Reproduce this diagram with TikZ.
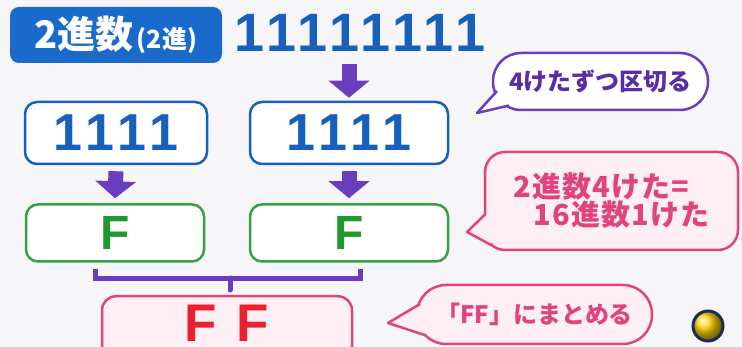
\documentclass[tikz,border=0pt]{standalone}
\usepackage{fontspec}
\setmainfont{Noto Sans CJK JP}
\newfontfamily\numfont{Liberation Sans}
\newfontfamily\jpwide{Noto Sans CJK JP}[LetterSpace=4]
\usetikzlibrary{arrows.meta,calc}
\definecolor{bg}{HTML}{F6F6F9}
\definecolor{tblue}{HTML}{1A6ACC}
\definecolor{nblue}{HTML}{1860BE}
\definecolor{purp}{HTML}{6A3DBE}
\definecolor{ptext}{HTML}{5A2DA6}
\definecolor{gline}{HTML}{3A9E44}
\definecolor{gtext}{HTML}{22992E}
\definecolor{pink}{HTML}{E0447C}
\definecolor{pfill}{HTML}{FDEFF4}
\definecolor{red}{HTML}{E8222C}
\definecolor{navy}{HTML}{1C2B5E}
\newcommand{\fs}[1]{\fontsize{#1}{#1}\selectfont}
\begin{document}
\begin{tikzpicture}[x=1pt,y=-1pt,
  bluebox/.style={draw=nblue,line width=2.5pt,fill=white,rounded corners=12pt,text=nblue,font=\numfont\fs{52}\bfseries,inner sep=0pt},
  greenbox/.style={draw=gline,line width=2.5pt,fill=white,rounded corners=12pt,text=gtext,font=\numfont\fs{48}\bfseries,inner sep=0pt},
  redbox/.style={draw=pink,line width=2.5pt,fill=pfill,rounded corners=14pt,text=red,font=\numfont\fs{53}\bfseries,inner sep=0pt},
  barrow/.style={draw=purp,line width=15pt,-{Triangle[width=40pt,length=17pt]}},
  bracket/.style={draw=purp,line width=5pt},
  bubble/.style={line width=2.5pt,inner sep=0pt,font=\bfseries},
]
\useasboundingbox (0,0) rectangle (742,347);
\clip (0,0) rectangle (742,347);
\fill[bg] (0,0) rectangle (742,347);

% title
\node[fill=tblue,rounded corners=9pt,minimum width=212pt,minimum height=56pt,text=white,font=\bfseries,inner sep=0pt] (title) at (116,35)
  {\fs{38}2進数\hspace{3pt}\fs{25}(2進)};

% top binary number
\node[text=nblue,font=\numfont\fs{54}\bfseries,inner sep=0pt] (bin) at (360,33)
  {1\kern1.5pt1\kern1.5pt1\kern1.5pt1\kern1.5pt1\kern1.5pt1\kern1.5pt1\kern1.5pt1};

% boxes
\node[bluebox,minimum width=182pt,minimum height=62pt] (L1) at (116,133) {1\kern3pt1\kern3pt1\kern3pt1};
\node[bluebox,minimum width=198pt,minimum height=62pt] (R1) at (349,133) {1\kern3pt1\kern3pt1\kern3pt1};
\node[greenbox,minimum width=178pt,minimum height=57pt] (LF) at (115,233) {F};
\node[greenbox,minimum width=198pt,minimum height=57pt] (RF) at (349,233) {F};
\node[redbox,minimum width=250pt,minimum height=64pt,anchor=north] (FF) at (227,295) {\raisebox{10pt}{F\hspace{20pt}F}};

% arrows
\draw[barrow] ($(R1.north)+(0,-37)$) -- ($(R1.north)+(0,-3)$);
\draw[barrow] ($(L1.south)+(0,6)$) -- ($(LF.north)+(0,-5)$);
\draw[barrow] ($(R1.south)+(0,6)$) -- ($(RF.north)+(0,-5)$);

% bracket
\coordinate (bl) at ($(LF.south west)+(71,6)$);
\coordinate (br) at ($(RF.south west)+(112,6)$);
\coordinate (bm) at ($(FF.north)+(3,0)$);
\draw[bracket] (bl) -- ++(0,10) -| (br);
\draw[bracket,line cap=round] (bm |- 0,278) -- ($(bm)+(0,-5)$);

% bubble 1
\node[bubble,draw=purp,fill=white,rounded corners=28pt,minimum width=215pt,minimum height=57pt,text=ptext,font=\fs{24}\bfseries] (b1) at (600.5,81.5) {4けたずつ区切る};
\fill[white] (498,92) -- (477,113) -- (508,105) -- (504,95) -- cycle;
\draw[purp,line width=2.5pt,line join=round] (497,91) -- (477,113) -- (509,105.5);

% bubble 2
\node[bubble,draw=pink,fill=pfill,rounded corners=20pt,minimum width=253pt,minimum height=98pt,text=pink,font=\jpwide\fs{29}\bfseries,align=left] (b2) at (611.5,201) {2進数4けた=\\[-1pt]\hspace{20pt}16進数1けた};
\fill[pfill] (487,214) -- (467,232) -- (491,244) -- (495,230) -- cycle;
\draw[pink,line width=2.5pt,line join=round] (485.5,214) -- (467,232) -- (492,245.5);

% bubble 3
\node[bubble,draw=pink,fill=pfill,rounded corners=29pt,minimum width=235pt,minimum height=59pt,text=pink,font=\fs{24}\bfseries] (b3) at (534.5,314.5) {「FF」にまとめる};
\fill[pfill] (421,305) -- (388,323) -- (426,334) -- (430,318) -- cycle;
\draw[pink,line width=2.5pt,line join=round] (420,304) -- (388,323) -- (426,335.5);

% ball
\shade[ball color=orange!35!yellow,draw=navy,line width=3pt] (708,326) circle (15);
\end{tikzpicture}
\end{document}
